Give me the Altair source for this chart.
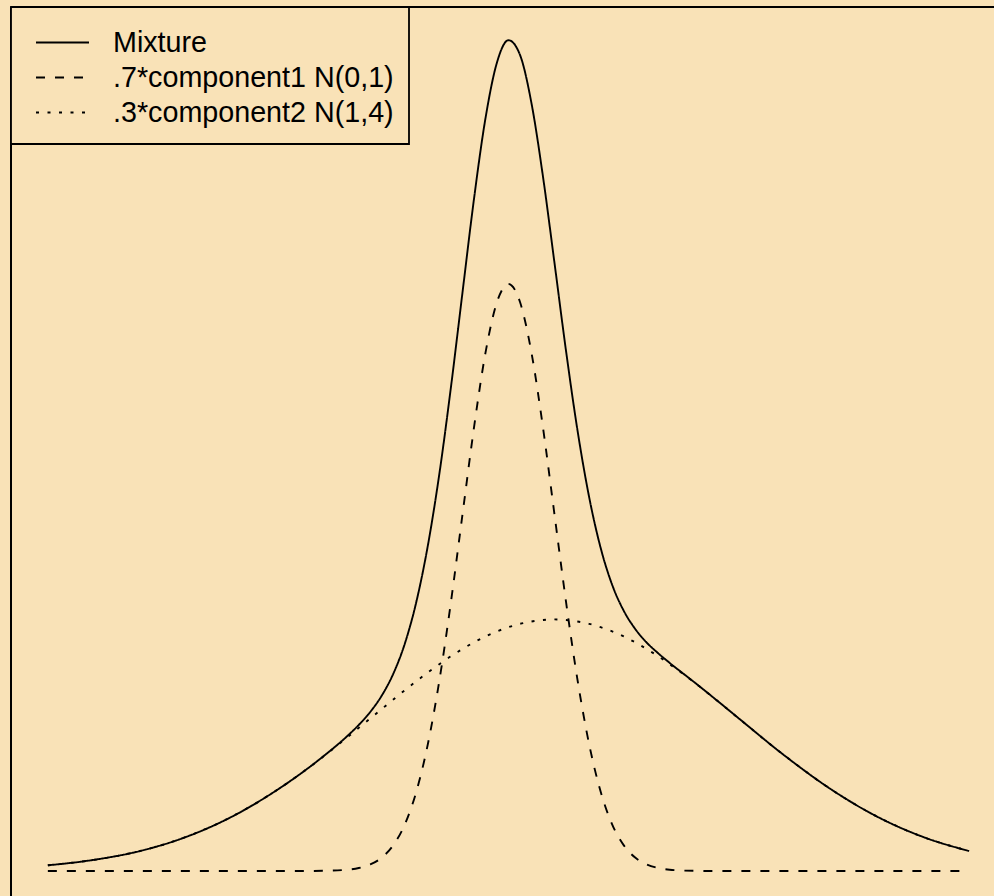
import altair as alt
import pandas as pd

# Sample positions along the x axis (denser near the peak)
x_vals = [-10, -9, -8, -7, -6, -5, -4.5, -4, -3.5, -3.25, -3, -2.75, -2.5, -2.25,
          -2, -1.75, -1.5, -1.25, -1, -0.75, -0.5, -0.25, 0, 0.25, 0.5, 0.75,
          1, 1.25, 1.5, 1.75, 2, 2.25, 2.5, 2.75, 3, 3.25, 3.5, 4, 4.5, 5,
          6, 7, 8, 9, 10]

# Mixture density
mixture = [0.0027, 0.0053, 0.0095, 0.0162, 0.0259, 0.0389, 0.0465, 0.0549,
           0.0642, 0.0695, 0.0757, 0.0835, 0.0939, 0.1082, 0.1281, 0.1549,
           0.1891, 0.2301, 0.2750, 0.3196, 0.3581, 0.3847, 0.3953, 0.3883,
           0.3652, 0.3302, 0.2891, 0.2473, 0.2094, 0.1780, 0.1538, 0.1362,
           0.1239, 0.1152, 0.1087, 0.1036, 0.0990, 0.0904, 0.0816, 0.0726,
           0.0548, 0.0389, 0.0259, 0.0162, 0.0095]

# Weighted first component
comp1 = [0.0, 0.0, 0.0, 0.0, 0.0, 0.0, 0.0, 0.0001, 0.0006, 0.0014, 0.0031,
         0.0064, 0.0123, 0.0222, 0.0378, 0.0604, 0.0907, 0.1279, 0.1694,
         0.2108, 0.2465, 0.2707, 0.2793, 0.2707, 0.2465, 0.2108, 0.1694,
         0.1279, 0.0907, 0.0604, 0.0378, 0.0222, 0.0123, 0.0064, 0.0031,
         0.0014, 0.0006, 0.0001, 0.0, 0.0, 0.0, 0.0, 0.0, 0.0, 0.0]

# Weighted second component
comp2 = [0.0027, 0.0053, 0.0095, 0.0162, 0.0259, 0.0389, 0.0465, 0.0548,
         0.0636, 0.0681, 0.0726, 0.0771, 0.0816, 0.0860, 0.0903, 0.0945,
         0.0984, 0.1022, 0.1056, 0.1088, 0.1116, 0.1140, 0.1160, 0.1176,
         0.1187, 0.1194, 0.1197, 0.1194, 0.1187, 0.1176, 0.1160, 0.1140,
         0.1116, 0.1088, 0.1056, 0.1022, 0.0984, 0.0903, 0.0816, 0.0726,
         0.0548, 0.0389, 0.0259, 0.0162, 0.0095]

series_names = ["Mixture", ".7*component1 N(0,1)", ".3*component2 N(1,4)"]

BG = "#F9E2B7"
W, H = 983, 889
FONT = "Liberation Sans"
LINE_W = 1.9

dash_styles = {
    "Mixture": [1, 0],
    ".7*component1 N(0,1)": [9, 10],
    ".3*component2 N(1,4)": [3, 8.5],
}

x_scale = alt.Scale(domain=[-10.8, 10.54], nice=False, zero=False)
y_scale = alt.Scale(domain=[-0.0119, 0.4111], nice=False, zero=False)


def curve(values, name):
    frame = pd.DataFrame({"x": x_vals, "density": values})
    return alt.Chart(frame).mark_line(
        color="black", strokeWidth=LINE_W, interpolate="monotone",
        strokeDash=dash_styles[name],
    ).encode(
        x=alt.X("x:Q", scale=x_scale, axis=None),
        y=alt.Y("density:Q", scale=y_scale, axis=None),
    )


one_row = pd.DataFrame({"k": [0]})

# Plot frame: left and top edges
frame_left = alt.Chart(one_row).mark_rule(color="black", strokeWidth=2).encode(
    x=alt.value(0), y=alt.value(0), y2=alt.value(H)
)
frame_top = alt.Chart(one_row).mark_rule(color="black", strokeWidth=2).encode(
    x=alt.value(0), x2=alt.value(W), y=alt.value(0)
)

# Legend box with line samples and labels
legend_box = alt.Chart(one_row).mark_rect(
    fill=BG, stroke="black", strokeWidth=1.8
).encode(x=alt.value(0), x2=alt.value(398), y=alt.value(0), y2=alt.value(137))

legend_layers = [legend_box]
row_y = [35.5, 70.5, 105.5]
for name, ry in zip(series_names, row_y):
    legend_layers.append(
        alt.Chart(one_row).mark_rule(
            color="black", strokeWidth=LINE_W, strokeDash=dash_styles[name]
        ).encode(x=alt.value(25), x2=alt.value(78), y=alt.value(ry))
    )
    legend_layers.append(
        alt.Chart(one_row).mark_text(
            align="left", baseline="middle", font=FONT, fontSize=28.7,
            color="black", text=name,
        ).encode(x=alt.value(102), y=alt.value(ry))
    )

chart = alt.layer(
    curve(comp1, series_names[1]),
    curve(comp2, series_names[2]),
    curve(mixture, series_names[0]),
    frame_left,
    frame_top,
    *legend_layers,
).properties(
    width=W,
    height=H,
    background=BG,
    padding={"left": 11, "top": 7, "right": 0, "bottom": 0},
    autosize=alt.AutoSizeParams(type="none"),
).configure_view(stroke=None)

chart.save("out.html", embed_options={"renderer": "svg", "actions": False})
